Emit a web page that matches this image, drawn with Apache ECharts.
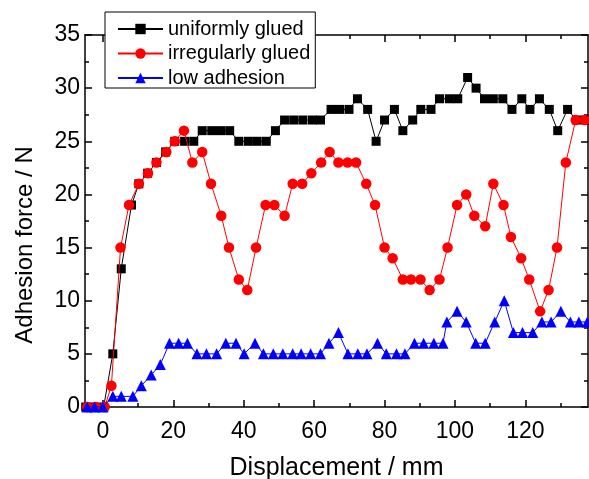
<!DOCTYPE html>
<html>
<head>
<meta charset="utf-8">
<script src="https://cdn.jsdelivr.net/npm/echarts@6/dist/echarts.min.js"></script>
<style>
html,body{margin:0;padding:0;background:#fff;}
#chart{width:589px;height:479px;}
</style>
</head>
<body>
<div id="chart"></div>
<script>
// ---- data (displacement in mm, force in N) ----
var uniformX = [-4.9,-2.4,0.2,2.8,5.2,8.1,10.2,12.7,15.2,17.8,20.4,23.2,25.8,28.2,30.9,33.4,36.0,38.6,41.3,43.8,46.4,49.0,51.6,54.2,56.8,59.5,61.8,64.8,67.2,69.9,72.3,75.2,77.6,80.0,82.8,85.2,88.0,90.3,93.2,95.6,98.4,100.8,103.6,106.0,108.4,110.9,113.6,116.2,119.0,121.3,124.0,126.8,129.2,132.0,134.5,137.0];
var uniformY = [0,0,0,5,13,19,21,22,23,24,25,25,25,26,26,26,26,25,25,25,25,26,27,27,27,27,27,28,28,28,29,28,25,27,28,26,27,28,28,29,29,29,31,30,29,29,29,28,29,28,29,28,26,28,27,27];

var irregularX = [-4.5,-2.1,0.5,2.4,5.0,7.4,10.2,12.8,15.2,18.0,20.4,23.0,25.4,28.2,30.7,33.6,35.8,38.6,41.0,43.5,46.2,48.7,51.6,53.9,56.6,59.2,62.0,64.4,66.9,69.5,71.9,74.8,77.3,80.0,82.3,85.2,87.5,90.2,92.8,95.6,97.9,100.6,103.2,105.5,108.6,110.9,113.8,115.9,118.8,121.1,124.2,126.6,129.0,131.5,134.3,136.9];
var irregularY = [0,0,0,2,15,19,21,22,23,24,25,26,23,24,21,18,15,12,11,15,19,19,18,21,21,22,23,24,23,23,23,21,19,15,14,12,12,12,11,12,15,19,20,18,17,21,19,16,14,12,9,11,15,23,27,27];

var lowX = [-4.5,-2.4,0.0,2.8,5.2,8.5,10.9,13.7,16.3,18.9,21.5,24.0,26.7,29.4,32.3,34.9,37.8,40.1,43.2,45.6,48.4,51.1,53.9,56.3,59.0,61.8,64.2,66.9,69.6,72.4,75.0,78.0,80.5,83.4,85.8,88.5,91.1,94.0,96.6,97.7,100.6,103.2,105.9,108.6,111.3,114.0,116.6,119.2,122.1,124.7,127.3,130.1,132.8,135.2,137.6];
var lowY = [0,0,0,1,1,1,2,3,4,6,6,6,5,5,5,6,6,5,6,5,5,5,5,5,5,5,6,7,5,5,5,6,5,5,5,6,6,6,6,8,9,8,6,6,8,10,7,7,7,8,8,9,8,8,8];

var seriesNames = ['uniformly glued','irregularly glued','low adhesion'];
var xMajorTicks = [0,20,40,60,80,100,120];
var xMinorTicks = [10,30,50,70,90,110,130];
var xTitle = 'Displacement / mm';
var yTitle = 'Adhesion force / N';

function pairs(xs, ys){ var out=[]; for(var i=0;i<xs.length;i++){ out.push([xs[i], ys[i]]); } return out; }

var FONT = '"Liberation Sans", Arial, sans-serif';
var XMIN = -5.1, XMAX = 137.8;

function xAxisDef(position, ticks, len, showLine, showLabel, name){
  var a = {
    type:'value', gridIndex:0, position:position, min:XMIN, max:XMAX,
    axisLine:{show:showLine, onZero:false, lineStyle:{color:'#000', width:1.5}},
    axisTick:{show:true, inside:true, length:len, customValues:ticks, lineStyle:{color:'#000', width:1.5}},
    axisLabel:{show:showLabel, customValues:ticks, color:'#000', fontSize:23, fontFamily:FONT, margin:13},
    splitLine:{show:false}
  };
  if(name){
    a.name = name; a.nameLocation='middle'; a.nameGap=49;
    a.nameTextStyle={color:'#000', fontSize:25, fontFamily:FONT};
  }
  return a;
}
function yAxisDef(position, showLabel, name){
  var a = {
    type:'value', gridIndex:0, position:position, min:0, max:35, interval:5,
    axisLine:{show:true, onZero:false, lineStyle:{color:'#000', width:1.5}},
    axisTick:{show:true, inside:true, length:7, lineStyle:{color:'#000', width:1.5}},
    minorTick:{show:true, splitNumber:2, length:4, lineStyle:{color:'#000', width:1.5}},
    axisLabel:{show:showLabel, color:'#000', fontSize:23, fontFamily:FONT, margin:5},
    splitLine:{show:false}, minorSplitLine:{show:false}
  };
  if(name){
    a.name = name; a.nameLocation='middle'; a.nameGap=48; a.nameRotate=90;
    a.nameTextStyle={color:'#000', fontSize:24, fontFamily:FONT, padding:[0,48,0,0]};
  }
  return a;
}

var chart = echarts.init(document.getElementById('chart'), null, {renderer:'canvas'});
chart.setOption({
  animation:false,
  backgroundColor:'#fff',
  grid:{left:85, right:1, top:35, bottom:72, containLabel:false, outerBoundsMode:'none'},
  legend:{
    data:seriesNames, orient:'vertical', left:105, top:12,
    itemWidth:45, itemHeight:13, itemGap:4.5,
    padding:[7,5,0,12],
    borderColor:'#000', borderWidth:1, backgroundColor:'#fff',
    textStyle:{color:'#000', fontSize:20, fontFamily:FONT, lineHeight:20}
  },
  xAxis:[
    xAxisDef('bottom', xMajorTicks, 7, true, true, xTitle),
    xAxisDef('bottom', xMinorTicks, 4, false, false, null),
    xAxisDef('top', xMajorTicks, 7, true, false, null),
    xAxisDef('top', xMinorTicks, 4, false, false, null)
  ],
  yAxis:[
    yAxisDef('left', true, yTitle),
    yAxisDef('right', false, null)
  ],
  series:[
    {name:seriesNames[0], type:'line', xAxisIndex:0, yAxisIndex:0, data:pairs(uniformX, uniformY),
     symbol:'rect', symbolSize:9, color:'#000', itemStyle:{color:'#000'}, lineStyle:{color:'#000', width:1}, z:2},
    {name:seriesNames[1], type:'line', xAxisIndex:0, yAxisIndex:0, data:pairs(irregularX, irregularY),
     symbol:'circle', symbolSize:10.5, color:'#ff0000', itemStyle:{color:'#ff0000'}, lineStyle:{color:'#ff0000', width:1}, z:3},
    {name:seriesNames[2], type:'line', xAxisIndex:0, yAxisIndex:0, data:pairs(lowX, lowY),
     symbol:'triangle', symbolSize:11, color:'#0000ff', itemStyle:{color:'#0000ff'}, lineStyle:{color:'#0000ff', width:1}, z:4}
  ]
});
</script>
</body>
</html>
